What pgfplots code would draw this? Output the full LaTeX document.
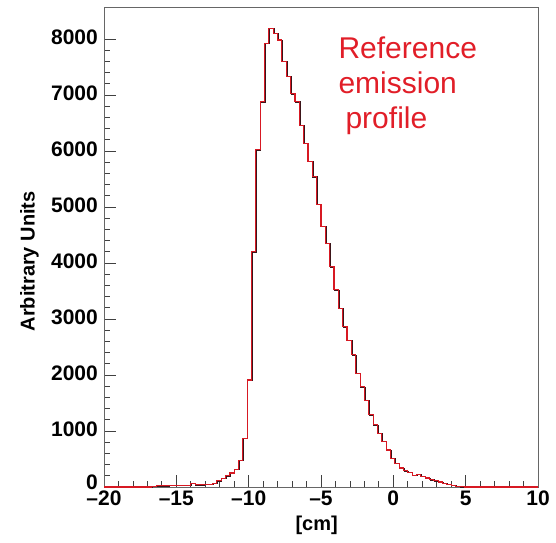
\documentclass[border=0pt]{standalone}
\usepackage{fontspec}
\setmainfont{Liberation Sans}
\usepackage{pgfplots}
\pgfplotsset{compat=1.18}
\definecolor{histred}{RGB}{215,25,35}
\definecolor{txtred}{RGB}{225,30,40}
\definecolor{histdark}{RGB}{60,20,25}
\begin{document}
\begin{tikzpicture}
\path[use as bounding box] (-104pt,-55pt) rectangle (452pt,487pt);
\begin{axis}[
  scale only axis,
  width=434pt, height=480pt,
  xmin=-20, xmax=10, ymin=0, ymax=8570,
  xtick={-20,-15,-10,-5,0,5,10},
  xticklabels={–20,–15,–10,–5,0,5,10},
  ytick={0,1000,2000,3000,4000,5000,6000,7000,8000},
  yticklabels={\raisebox{6pt}{0},1000,2000,3000,4000,5000,6000,7000,8000},
  minor x tick num=4, minor y tick num=4,
  tick pos=left,
  tick align=inside,
  major tick length=12pt, minor tick length=6pt,
  tick style={black!75, line width=0.8pt},
  axis line style={black!60, line width=0.9pt},
  ticklabel style={font=\fontsize{21}{24}\selectfont\bfseries, inner sep=1pt},
  xticklabel style={yshift=-3pt},
  yticklabel style={xshift=-5pt, yshift=1.5pt},
  /pgf/number format/assume math mode=true,
  xlabel={[cm]},
  ylabel={Arbitrary Units},
  xlabel style={font=\fontsize{20}{24}\selectfont\bfseries, at={(axis description cs:0.49,-0.08)}, anchor=center},
  ylabel style={font=\fontsize{20}{24}\selectfont\bfseries, at={(axis description cs:-0.172,0.47)}, anchor=center, rotate=0},
  clip=true,
]
\addplot[const plot, histdark, line width=1.1pt, xshift=0.7pt, yshift=-0.3pt] coordinates {
(-20.0,0) (-19.7,0) (-19.4,0) (-19.1,0) (-18.8,0) (-18.5,0) (-18.2,0) (-17.9,0) (-17.6,0) (-17.3,0) (-17.0,0)
(-16.7,15) (-16.4,20) (-16.1,20) (-15.8,20) (-15.5,25) (-15.2,25) (-14.9,25) (-14.6,30) (-14.3,30)
(-14.0,60) (-13.7,40) (-13.4,40) (-13.1,50) (-12.8,50) (-12.5,60) (-12.2,110) (-11.9,150) (-11.6,200)
(-11.3,250) (-11.0,320) (-10.7,480) (-10.4,870) (-10.1,1910) (-9.8,4200) (-9.5,6020) (-9.2,6880)
(-8.9,7920) (-8.6,8190) (-8.3,8100) (-8.0,7980) (-7.7,7600) (-7.4,7330) (-7.1,7020) (-6.8,6880)
(-6.5,6460) (-6.2,6140) (-5.9,5810) (-5.6,5540) (-5.3,5050) (-5.0,4650) (-4.7,4350) (-4.4,3930)
(-4.1,3520) (-3.8,3190) (-3.5,2860) (-3.2,2620) (-2.9,2360) (-2.6,2030) (-2.3,1790) (-2.0,1550)
(-1.7,1290) (-1.4,1110) (-1.1,960) (-0.8,810) (-0.5,660) (-0.2,510) (0.1,420) (0.4,340) (0.7,290)
(1.0,260) (1.3,210) (1.6,230) (1.9,190) (2.2,160) (2.5,130) (2.8,110) (3.1,90) (3.4,70) (3.7,50)
(4.0,30) (4.3,15) (4.6,5) (4.9,0) (5.2,0) (5.5,0) (5.8,0) (6.1,0) (6.4,0) (6.7,0) (7.0,0) (7.3,0)
(7.6,0) (7.9,0) (8.2,0) (8.5,0) (8.8,0) (9.1,0) (9.4,0) (9.7,0) (10.0,0)
};
\addplot[const plot, histred, line width=1.1pt] coordinates {
(-20.0,0) (-19.7,0) (-19.4,0) (-19.1,0) (-18.8,0) (-18.5,0) (-18.2,0) (-17.9,0) (-17.6,0) (-17.3,0) (-17.0,0)
(-16.7,15) (-16.4,20) (-16.1,20) (-15.8,20) (-15.5,25) (-15.2,25) (-14.9,25) (-14.6,30) (-14.3,30)
(-14.0,60) (-13.7,40) (-13.4,40) (-13.1,50) (-12.8,50) (-12.5,60) (-12.2,110) (-11.9,150) (-11.6,200)
(-11.3,250) (-11.0,320) (-10.7,480) (-10.4,870) (-10.1,1910) (-9.8,4200) (-9.5,6020) (-9.2,6880)
(-8.9,7920) (-8.6,8190) (-8.3,8100) (-8.0,7980) (-7.7,7600) (-7.4,7330) (-7.1,7020) (-6.8,6880)
(-6.5,6460) (-6.2,6140) (-5.9,5810) (-5.6,5540) (-5.3,5050) (-5.0,4650) (-4.7,4350) (-4.4,3930)
(-4.1,3520) (-3.8,3190) (-3.5,2860) (-3.2,2620) (-2.9,2360) (-2.6,2030) (-2.3,1790) (-2.0,1550)
(-1.7,1290) (-1.4,1110) (-1.1,960) (-0.8,810) (-0.5,660) (-0.2,510) (0.1,420) (0.4,340) (0.7,290)
(1.0,260) (1.3,210) (1.6,230) (1.9,190) (2.2,160) (2.5,130) (2.8,110) (3.1,90) (3.4,70) (3.7,50)
(4.0,30) (4.3,15) (4.6,5) (4.9,0) (5.2,0) (5.5,0) (5.8,0) (6.1,0) (6.4,0) (6.7,0) (7.0,0) (7.3,0)
(7.6,0) (7.9,0) (8.2,0) (8.5,0) (8.8,0) (9.1,0) (9.4,0) (9.7,0) (10.0,0)
};
\node[anchor=north west, align=left, text=txtred, inner sep=0pt,
  font=\fontsize{30}{35}\selectfont] at (axis cs:-3.8,8040)
  {Reference\\emission\\\hspace*{7pt}profile};
\end{axis}
\end{tikzpicture}
\end{document}
